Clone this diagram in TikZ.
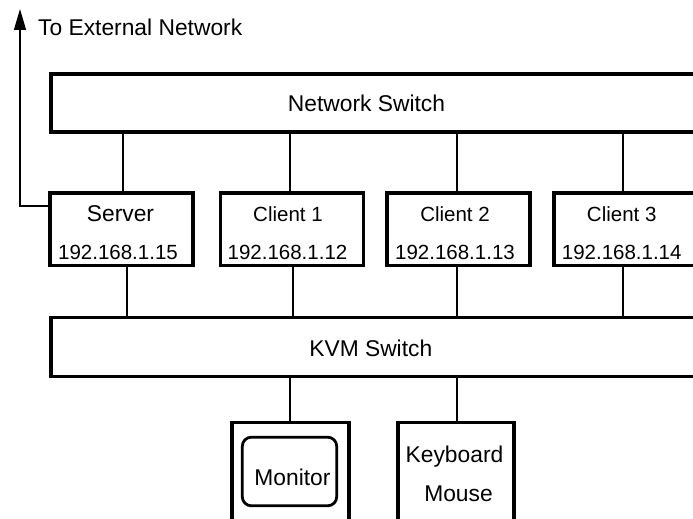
\documentclass[tikz,border=0pt]{standalone}
\usepackage{fontspec}
\setmainfont{Liberation Sans}
\usetikzlibrary{arrows.meta,calc}
\begin{document}
\begin{tikzpicture}[x=1pt,y=-1pt,
  box/.style={draw,line width=3.6pt,inner sep=0pt,rectangle},
  screen/.style={draw,line width=2.8pt,inner sep=0pt,rounded corners=9pt},
  lbl/.style={font=\fontsize{22.8pt}{26pt}\selectfont,anchor=base,inner sep=0pt},
  small/.style={lbl,font=\fontsize{20.5pt}{24pt}\selectfont},
  wire/.style={line width=1.2pt}]
\clip (0,0) rectangle (693,519);
\fill[white] (0,0) rectangle (693,519);

% switches
\node[box,minimum width=709pt,minimum height=58.3pt] (ns) at (405.5,102.85) {};
\node[box,minimum width=709pt,minimum height=59pt] (kvm) at (405.5,346.8) {};
\node[lbl] (nslbl) at (366.5,111) {Network Switch};
\node[lbl] (kvmlbl) at (370.8,356) {KVM Switch};

% hosts
\node[box,minimum width=143.3pt,minimum height=72.5pt] (srv) at (121.35,229.25) {};
\node[box,minimum width=143pt,minimum height=72.5pt] (c1) at (291.8,229.25) {};
\node[box,minimum width=143pt,minimum height=72.5pt] (c2) at (458.5,229.25) {};
\node[box,minimum width=143pt,minimum height=72.5pt] (c3) at (625.2,229.25) {};

\node[lbl] (srvname) at (120.5,221.7) {Server};
\node[small] (srvip) at (118,259.3) {192.168.1.15};
\node[small] (c1name) at (288,221.7) {Client 1};
\node[small] (c1ip) at (287.5,259.3) {192.168.1.12};
\node[small] (c2name) at (455,221.7) {Client 2};
\node[small] (c2ip) at (455,259.3) {192.168.1.13};
\node[small] (c3name) at (621.7,221.7) {Client 3};
\node[small] (c3ip) at (621.7,259.3) {192.168.1.14};

% peripherals
\node[box,minimum width=117pt,minimum height=137.5pt] (mon) at (290.2,491.25) {};
\node[screen,minimum width=94.4pt,minimum height=68.6pt] (scr) at (289.5,471.5) {};
\node[lbl] (monlbl) at (292.5,485) {Monitor};
\node[box,minimum width=115.7pt,minimum height=137.5pt] (kbd) at (455.85,491.25) {};
\node[lbl] (kbdlbl) at (454.5,462.7) {Keyboard};
\node[lbl] (mouselbl) at (458.5,501) {Mouse};

% network switch to hosts
\draw[wire] (ns.south -| 123,0) -- (srv.north -| 123,0);
\draw[wire] (ns.south -| 290,0) -- (c1.north -| 290,0);
\draw[wire] (ns.south -| 457,0) -- (c2.north -| 457,0);
\draw[wire] (ns.south -| 623,0) -- (c3.north -| 623,0);

% hosts to KVM switch
\draw[wire] (srv.south -| 127,0) -- (kvm.north -| 127,0);
\draw[wire] (c1.south -| 293,0) -- (kvm.north -| 293,0);
\draw[wire] (c2.south -| 457,0) -- (kvm.north -| 457,0);
\draw[wire] (c3.south -| 623,0) -- (kvm.north -| 623,0);

% KVM switch to peripherals
\draw[wire] (kvm.south -| 290,0) -- (mon.north -| 290,0);
\draw[wire] (kvm.south -| 457,0) -- (kbd.north -| 457,0);

% uplink
\coordinate (ext) at (20,9);
\draw[wire,-{Triangle[length=21pt,width=12pt]}] (srv.west |- 0,206) -| (ext);
\node[lbl,anchor=base west] (extlbl) at (38,36) {To External Network};
\end{tikzpicture}
\end{document}
